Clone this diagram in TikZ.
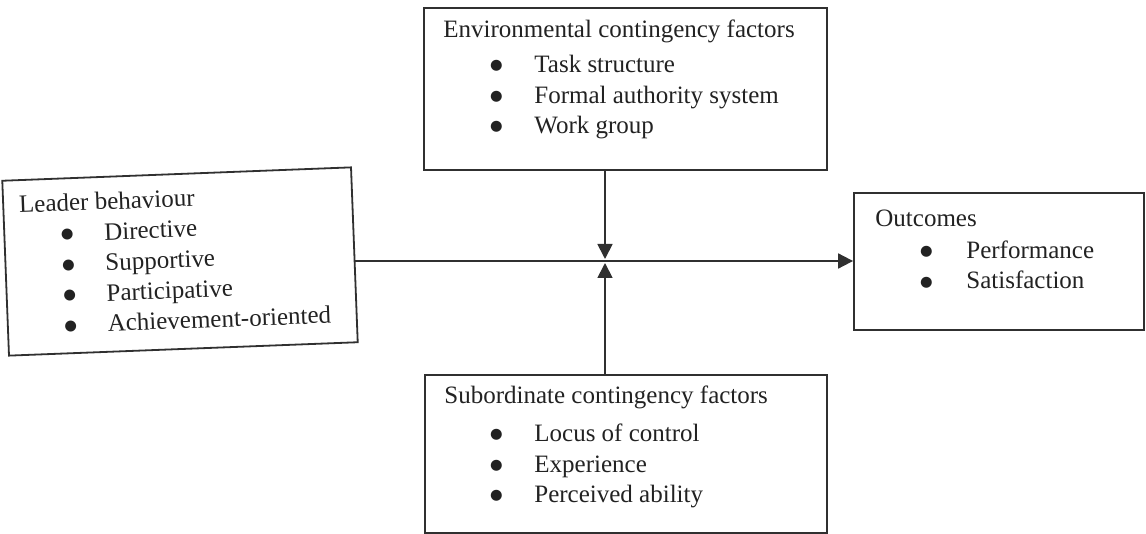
\documentclass[tikz,border=0pt]{standalone}
\usepackage{fontspec}
\setmainfont{Liberation Serif}
\newfontfamily\bulletfont{DejaVu Sans}
\usetikzlibrary{arrows.meta}
\definecolor{ink}{HTML}{222222}
\definecolor{rule}{HTML}{303030}
% bullet line: #1 centre of the bullet, #2 start of the item text, #3 text
\newcommand{\bitem}[3]{\hspace*{#1}\makebox[0pt]{%
  \raisebox{1.4pt}{\bulletfont\fontsize{7.2}{7.2}\selectfont ●}}%
  \hspace*{\dimexpr #2-#1\relax}#3}
\begin{document}
\begin{tikzpicture}[x=0.5pt,y=-0.5pt,
  frame/.style={draw=rule,line width=0.9pt,inner sep=0pt,fill=white},
  listtext/.style={anchor=north west,inner sep=0pt,align=left,text=ink,
    font=\fontsize{12.5}{15.25}\selectfont},
  arr/.style={draw=rule,line width=0.9pt,-{Triangle[length=7.5pt,width=7.5pt]}}]
\useasboundingbox (0,0) rectangle (1146,534);

% environmental factors (top)
\node[frame,minimum width=201.5pt,minimum height=81pt] (env) at (625.5,89) {};
\node[listtext] (envtxt) at (443,20) {Environmental contingency factors\\[2pt]
  \bitem{26.5pt}{45.5pt}{Task structure}\\
  \bitem{26.5pt}{45.5pt}{Formal authority system}\\
  \bitem{26.5pt}{45.5pt}{Work group}};

% subordinate factors (bottom)
\node[frame,minimum width=201pt,minimum height=79pt] (sub) at (626,454) {};
\node[listtext] (subtxt) at (444,385) {Subordinate contingency factors\\[4pt]
  \bitem{26pt}{45pt}{Locus of control}\\
  \bitem{26pt}{45pt}{Experience}\\
  \bitem{26pt}{45pt}{Perceived ability}};

% outcomes (right)
\node[frame,minimum width=145pt,minimum height=68.5pt] (out) at (999,261.5) {};
\node[listtext] (outtxt) at (875,210) {Outcomes\\[0.5pt]
  \bitem{25.5pt}{45.5pt}{Performance}\\
  \bitem{25.5pt}{45.5pt}{Satisfaction}};

% leader behaviour (left), slightly tilted
\begin{scope}[rotate around={2.2:(180,261.5)},transform shape]
\node[frame,minimum width=174.5pt,minimum height=87.5pt] (lead) at (180,261.5) {};
\node[listtext] (leadtxt) at (21,189) {Leader behaviour\\[0pt]
  \bitem{23.5pt}{42pt}{Directive}\\
  \bitem{23.5pt}{42pt}{Supportive}\\
  \bitem{23.5pt}{42pt}{Participative}\\
  \bitem{23.5pt}{42pt}{Achievement-oriented}};
\end{scope}

% connectors
\coordinate (j) at (605,261);
\draw[arr] (lead.east |- j) -- (out.west |- j);
\draw[arr,shorten >=1pt] (env.south -| j) -- (j);
\draw[arr,shorten >=1pt] (sub.north -| j) -- (j);
\end{tikzpicture}
\end{document}
